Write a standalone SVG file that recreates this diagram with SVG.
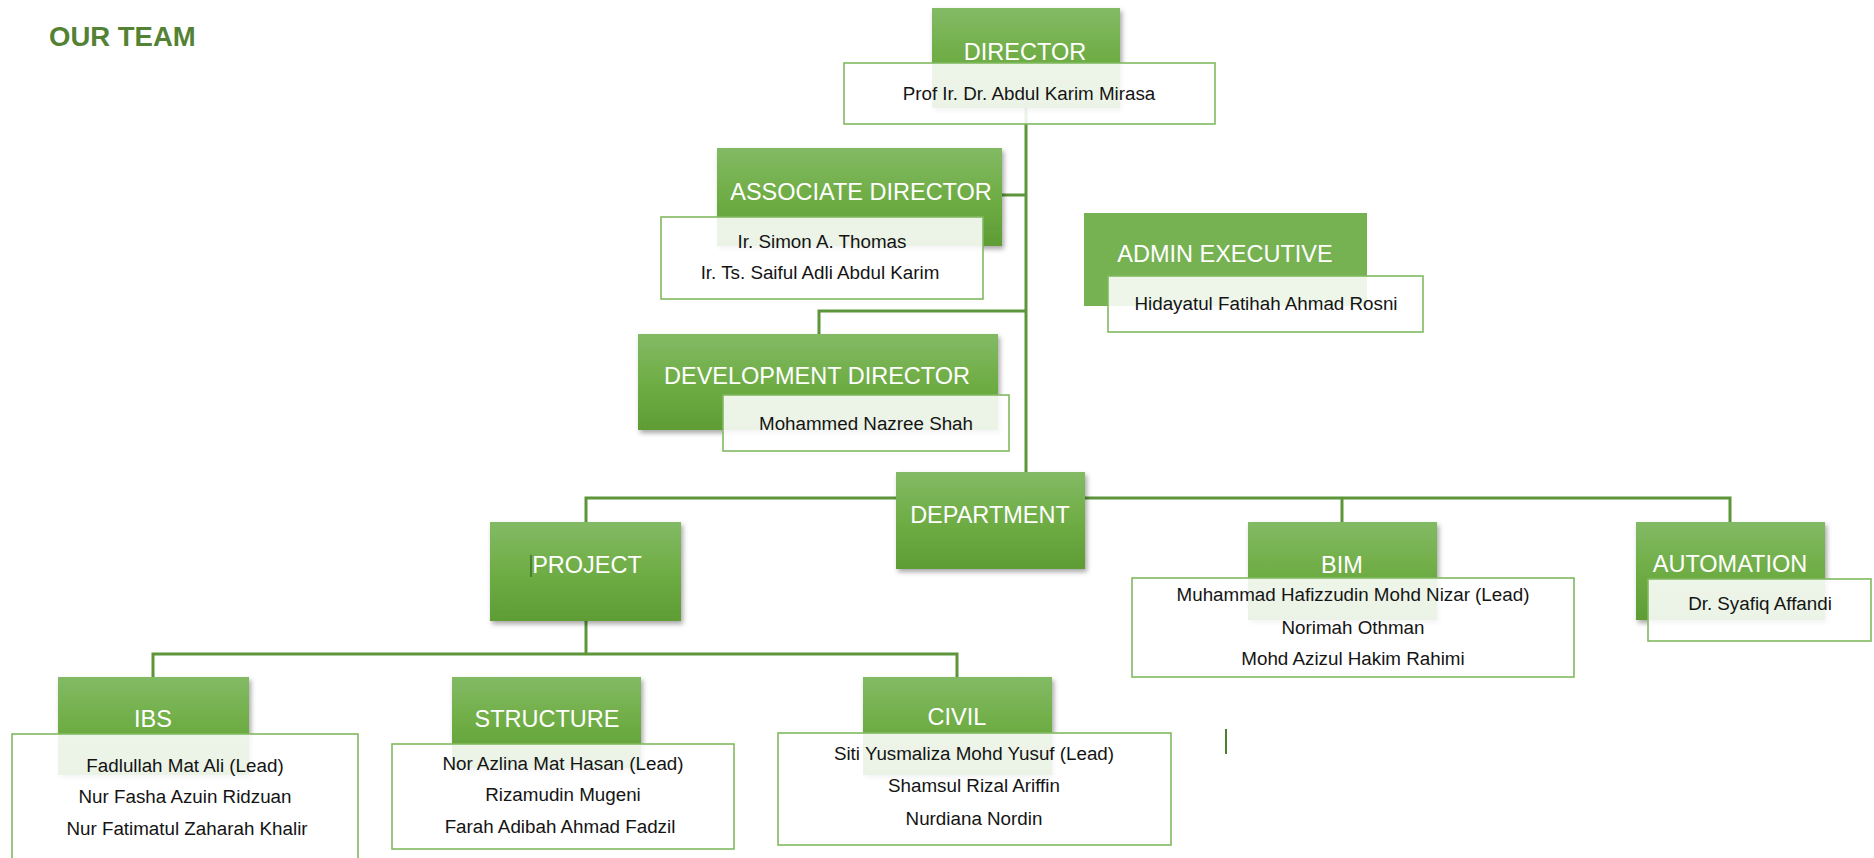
<svg xmlns="http://www.w3.org/2000/svg" width="1874" height="858" viewBox="0 0 1874 858">
<defs>
<linearGradient id="gg" x1="0" y1="0" x2="0" y2="1">
<stop offset="0" stop-color="#83ba65"/>
<stop offset="0.5" stop-color="#6fad45"/>
<stop offset="1" stop-color="#5e9c35"/>
</linearGradient>
<filter id="sh" x="-10%" y="-10%" width="125%" height="130%">
<feDropShadow dx="2" dy="3" stdDeviation="2.5" flood-color="#000" flood-opacity="0.35"/>
</filter>
<style>
.g{fill:url(#gg);filter:url(#sh)}
.ga{fill:#76b152}
.w{fill:#fff;fill-opacity:0.88;stroke:#80ba5f;stroke-width:1.6}
.h{font-family:"Liberation Sans",Arial,sans-serif;font-size:23.5px;fill:#fff;text-anchor:middle}
.n{font-family:"Liberation Sans",Arial,sans-serif;font-size:18.8px;fill:#141414;text-anchor:middle}
.c{fill:none;stroke:#5c953a;stroke-width:3}
</style>
</defs>
<rect width="1874" height="858" fill="#fff"/>
<text x="49" y="46" font-family="Liberation Sans,Arial,sans-serif" font-weight="bold" font-size="27.5" fill="#548235">OUR TEAM</text>

<g id="connectors">
<path class="c" d="M1026,100 V472"/>
<path class="c" d="M1002,195 H1026"/>
<path class="c" d="M1026,311 H819 V334"/>
<path class="c" d="M586,522 V498 H1730 V522"/>
<path class="c" d="M1342,498 V522"/>
<path class="c" d="M586,621 V654"/>
<path class="c" d="M153,677 V654 H957 V677"/>
</g>

<g id="director">
<rect class="g" x="932" y="8" width="188" height="100"/>
<text class="h" x="1025" y="60">DIRECTOR</text>
<rect class="w" x="844" y="63" width="371" height="61"/>
<text class="n" x="1029" y="100">Prof Ir. Dr. Abdul Karim Mirasa</text>
</g>

<g id="associate-director">
<rect class="g" x="717" y="148" width="285" height="98"/>
<text class="h" x="861" y="200">ASSOCIATE DIRECTOR</text>
<rect class="w" x="661" y="217" width="322" height="82"/>
<text class="n" x="822" y="248">Ir. Simon A. Thomas</text>
<text class="n" x="820" y="279">Ir. Ts. Saiful Adli Abdul Karim</text>
</g>

<g id="admin-executive">
<rect class="ga" x="1084" y="213" width="283" height="93"/>
<text class="h" x="1225" y="262">ADMIN EXECUTIVE</text>
<rect class="w" x="1108" y="276" width="315" height="56"/>
<text class="n" x="1266" y="310">Hidayatul Fatihah Ahmad Rosni</text>
</g>

<g id="development-director">
<rect class="g" x="638" y="334" width="360" height="96"/>
<text class="h" x="817" y="384">DEVELOPMENT DIRECTOR</text>
<rect class="w" x="723" y="395" width="286" height="56"/>
<text class="n" x="866" y="430">Mohammed Nazree Shah</text>
</g>

<g id="department">
<rect class="g" x="896" y="472" width="189" height="97"/>
<text class="h" x="990" y="523">DEPARTMENT</text>
</g>

<g id="project">
<rect class="g" x="490" y="522" width="191" height="99"/>
<line x1="531" y1="555" x2="531" y2="577" stroke="#4e7f2f" stroke-width="2"/>
<text class="h" x="587" y="573">PROJECT</text>
</g>

<g id="bim">
<rect class="g" x="1248" y="522" width="189" height="98"/>
<text class="h" x="1342" y="573">BIM</text>
<rect class="w" x="1132" y="578" width="442" height="99"/>
<text class="n" x="1353" y="601">Muhammad Hafizzudin Mohd Nizar (Lead)</text>
<text class="n" x="1353" y="634">Norimah Othman</text>
<text class="n" x="1353" y="665">Mohd Azizul Hakim Rahimi</text>
</g>

<g id="automation">
<rect class="g" x="1636" y="522" width="189" height="98"/>
<text class="h" x="1730" y="572">AUTOMATION</text>
<rect class="w" x="1648" y="579" width="223" height="62"/>
<text class="n" x="1760" y="610">Dr. Syafiq Affandi</text>
</g>

<g id="ibs">
<rect class="g" x="58" y="677" width="191" height="98"/>
<text class="h" x="153" y="727">IBS</text>
<rect class="w" x="12" y="734" width="346" height="130"/>
<text class="n" x="185" y="772">Fadlullah Mat Ali (Lead)</text>
<text class="n" x="185" y="803">Nur Fasha Azuin Ridzuan</text>
<text class="n" x="187" y="835">Nur Fatimatul Zaharah Khalir</text>
</g>

<g id="structure">
<rect class="g" x="452" y="677" width="189" height="91"/>
<text class="h" x="547" y="727">STRUCTURE</text>
<rect class="w" x="392" y="744" width="342" height="105"/>
<text class="n" x="563" y="770">Nor Azlina Mat Hasan (Lead)</text>
<text class="n" x="563" y="801">Rizamudin Mugeni</text>
<text class="n" x="560" y="833">Farah Adibah Ahmad Fadzil</text>
</g>

<g id="civil">
<rect class="g" x="863" y="677" width="189" height="98"/>
<text class="h" x="957" y="725">CIVIL</text>
<rect class="w" x="778" y="733" width="393" height="112"/>
<text class="n" x="974" y="760">Siti Yusmaliza Mohd Yusuf (Lead)</text>
<text class="n" x="974" y="792">Shamsul Rizal Ariffin</text>
<text class="n" x="974" y="825">Nurdiana Nordin</text>
</g>

<line x1="1226" y1="729" x2="1226" y2="754" stroke="#4e7f2f" stroke-width="2"/>
</svg>
